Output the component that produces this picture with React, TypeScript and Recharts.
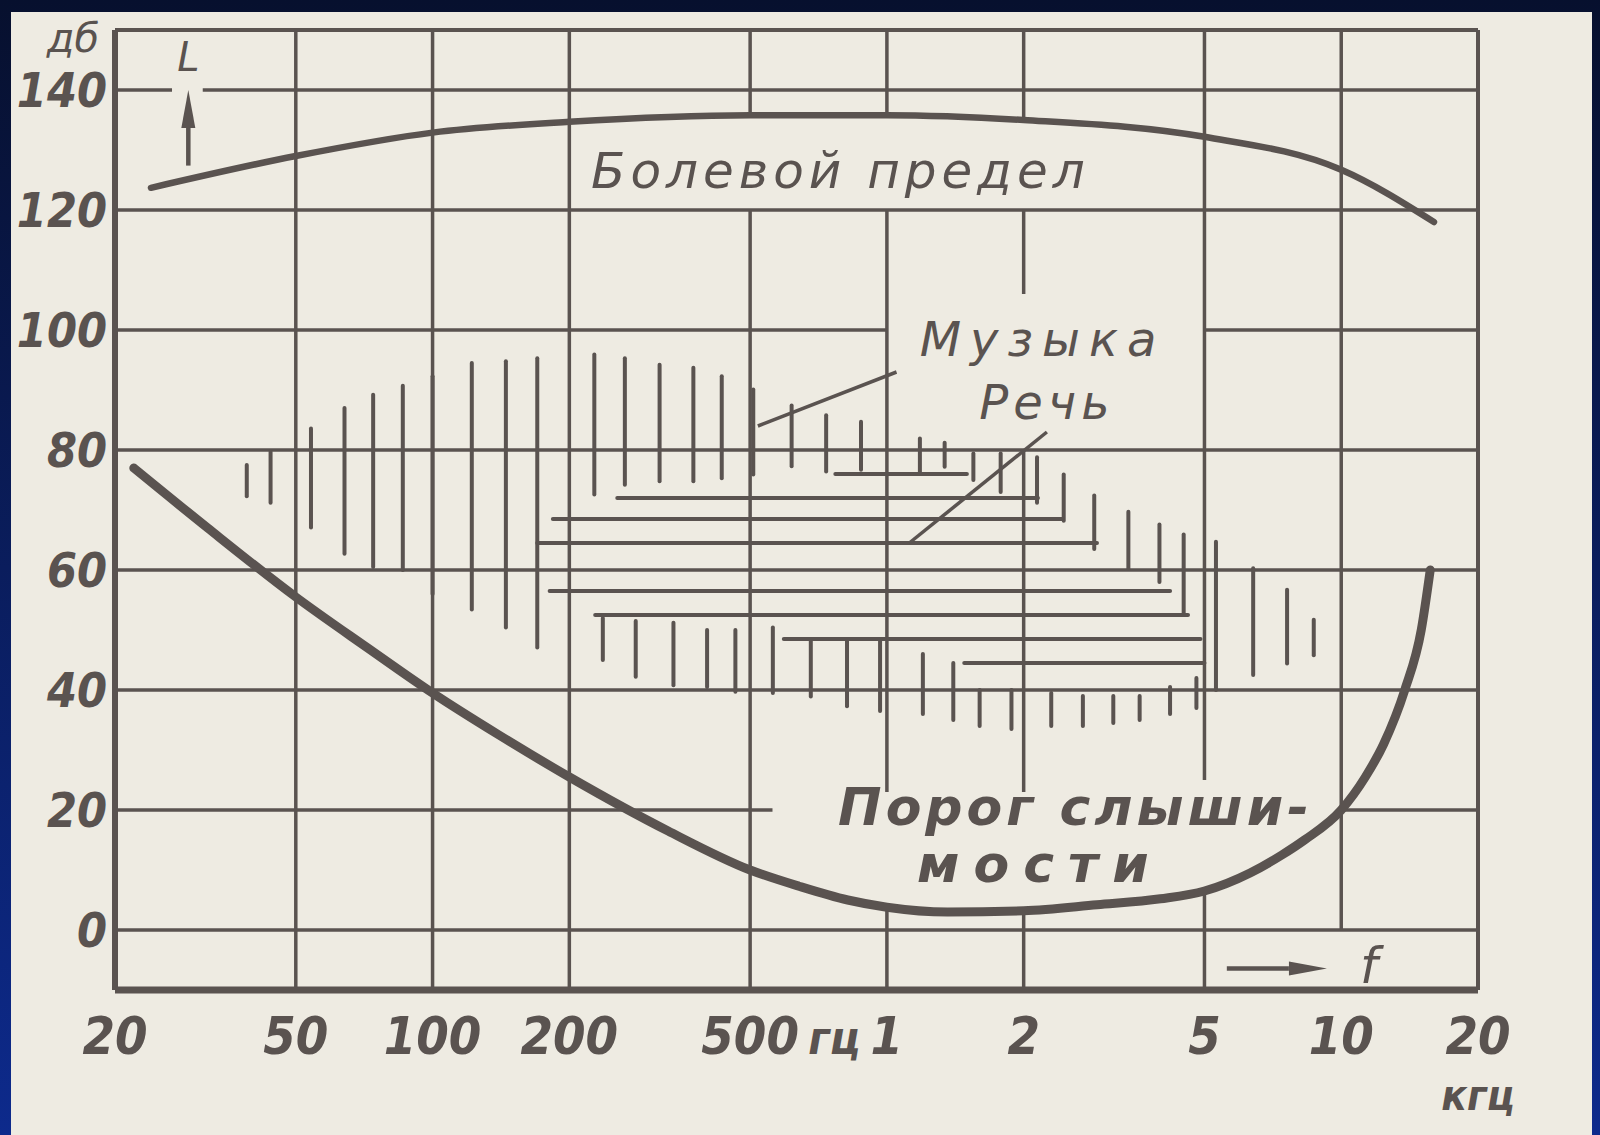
import { LineChart, Line, XAxis, YAxis, ReferenceLine, ReferenceDot } from "recharts";

const INK = "#5a5350";
const PAPER = "#eeebe2";
const NUM_FONT = "'DejaVu Sans Condensed', 'Liberation Sans Narrow', 'Liberation Sans', sans-serif";
const TXT_FONT = "'DejaVu Sans', 'Liberation Sans', sans-serif";

// axes
const freqTicks = [20, 50, 100, 200, 500, 1000, 2000, 5000, 10000, 20000];
const freqLabels = ["20", "50", "100", "200", "500", "1", "2", "5", "10", "20"];
const levelTicks = [0, 20, 40, 60, 80, 100, 120, 140];

// threshold of pain (Hz, dB)
const painFreq = [24, 50, 100, 200, 500, 1000, 2000, 5000, 10000, 16000];
const painLevel = [123.7, 129, 132.9, 134.7, 135.8, 135.8, 135, 132.2, 126.7, 118];

// threshold of hearing (Hz, dB)
const hearFreq = [22, 32, 50, 72, 100, 140, 200, 330, 500, 640, 820, 1000, 1360, 2000, 2900, 4000, 5000, 6300, 7400, 8300, 10000, 11300, 12400, 13800, 15000, 15700];
const hearLevel = [77, 67, 55.5, 47, 39.5, 32.5, 25.5, 16.5, 10, 7.3, 5, 3.8, 3, 3.2, 4.2, 5.2, 6.5, 9.5, 12.5, 15, 20, 25.5, 31, 40, 50, 60];

// music area, vertical hatching: [Hz, dB low, dB high]
const musicUpper = [
  [39, 72.3, 77.5], [44, 71.2, 79.7], [54, 67.1, 83.6], [64, 62.7, 87], [74, 60.5, 89.2],
  [86, 60, 90.7], [100, 56, 92.3], [122, 53.4, 94.5], [145, 50.4, 94.8], [170, 47.1, 95.3],
  [227, 72.6, 95.9], [265, 74.2, 95.3], [316, 74.8, 94.2], [375, 74.8, 93.7], [433, 75.3, 92.3],
  [508, 75.9, 90.1], [617, 77.3, 87.4], [735, 76.4, 85.8], [877, 76.7, 84.7], [1182, 76.2, 81.9],
  [1340, 77.2, 81.2], [1550, 75, 79.4], [1780, 73, 79.4], [2140, 71.2, 78.8], [2450, 68.2, 75.9],
  [2860, 63.5, 72.4], [3400, 60.3, 69.7], [3980, 58, 67.6], [4500, 52.8, 65.9], [5300, 40, 64.7],
  [6400, 42.5, 60.3], [7600, 44.4, 56.7], [8700, 45.8, 51.7],
];
const musicLower = [
  [237, 45, 52], [280, 42.2, 51.5], [339, 40.8, 51.2], [402, 40.5, 50], [464, 39.7, 50],
  [561, 39.5, 50.4], [680, 38.9, 48.5], [817, 37.3, 48.5], [966, 36.5, 48.2], [1200, 36, 46],
  [1400, 35, 44.5], [1600, 34, 40], [1880, 33.5, 40], [2300, 34, 39.5], [2700, 34, 39],
  [3150, 34.5, 39], [3600, 35, 39], [4200, 36, 40.5], [4800, 37, 42],
];

// speech area, horizontal hatching: [dB, Hz from, Hz to]
const speech = [
  [76, 770, 1500], [72, 255, 2150], [68.5, 184, 2430], [64.5, 170, 2900],
  [56.5, 181, 4200], [52.5, 228, 4600], [48.5, 593, 4900], [44.5, 1480, 5000],
];

// grid, broken where the captions sit
const gridV = [
  [50, -10, 150], [100, -10, 150], [200, -10, 150],
  [500, -10, 120], [500, 136, 150],
  [1000, -10, 3.8], [1000, 23, 120], [1000, 136, 150],
  [2000, -10, 3.2], [2000, 23, 80], [2000, 106, 120], [2000, 135, 150],
  [5000, -10, 6.5], [5000, 25, 150],
  [10000, 0, 150],
];
const gridH = [
  [0, 20, 20000], [20, 20, 560], [20, 10000, 20000], [40, 20, 20000], [60, 20, 20000],
  [80, 20, 20000], [100, 20, 1000], [100, 5000, 20000], [120, 20, 20000],
  [140, 20, 26.7], [140, 31.2, 20000],
];

// leader lines from captions: [Hz, dB, Hz, dB]
const leaders = [
  [520, 84, 1050, 93],
  [1120, 64.5, 2250, 83],
];

const painData = painFreq.map((f, i) => ({ f, db: painLevel[i] }));
const hearData = hearFreq.map((f, i) => ({ f, db: hearLevel[i] }));

const XTick = (props: any) => {
  const { x, y, payload } = props;
  const i = freqTicks.indexOf(payload.value);
  const common = { fill: INK, fontFamily: NUM_FONT, fontStyle: "italic", fontWeight: 700 } as any;
  return (
    <g>
      <text x={x} y={y + 56} textAnchor="middle" fontSize={52} {...common}>{freqLabels[i]}</text>
      {payload.value === 500 && (
        <text x={x + 58} y={y + 56} textAnchor="start" fontSize={46} {...common}>гц</text>
      )}
      {payload.value === 20000 && (
        <text x={x} y={y + 112} textAnchor="middle" fontSize={42} {...common}>кгц</text>
      )}
    </g>
  );
};

const YTick = (props: any) => {
  const { x, y, payload } = props;
  return (
    <text x={x} y={y + 17} textAnchor="end" fontSize={48} fill={INK} fontFamily={NUM_FONT} fontStyle="italic" fontWeight={700}>
      {payload.value}
    </text>
  );
};

const Arrow = (props: any) => {
  const { x1, y1, x2, y2 } = props;
  const len = Math.hypot(x2 - x1, y2 - y1) || 1;
  const ux = (x2 - x1) / len;
  const uy = (y2 - y1) / len;
  const hx = x2 - ux * 38;
  const hy = y2 - uy * 38;
  const px = -uy * 7;
  const py = ux * 7;
  return (
    <g>
      <line x1={x1} y1={y1} x2={hx} y2={hy} stroke={INK} strokeWidth={4.5} />
      <polygon points={`${x2},${y2} ${hx + px},${hy + py} ${hx - px},${hy - py}`} fill={INK} />
    </g>
  );
};

const note = (f: number, db: number, text: string, size: number, weight: number, spacing: number) => (
  <ReferenceDot
    key={text}
    x={f}
    y={db}
    r={0}
    shape={(p: any) => (
      <text x={p.cx} y={p.cy} textAnchor="middle" dominantBaseline="central" fontSize={size} fontWeight={weight}
        fontStyle="italic" letterSpacing={spacing} fill={INK} fontFamily={TXT_FONT}>
        {text}
      </text>
    )}
  />
);

export default function App() {
  return (
    <div style={{ position: "absolute", left: 0, top: 0, width: 1600, height: 1135, overflow: "hidden", background: "linear-gradient(180deg, #07102e 0%, #0d2a8c 100%)" }}>
      <div style={{ position: "absolute", left: 11, top: 12, right: 8, bottom: 0, background: PAPER }} />
      <div style={{ position: "absolute", left: 0, top: 0 }}>
        <LineChart width={1600} height={1135} margin={{ top: 30, right: 122, left: 55, bottom: 115 }}>
          <XAxis type="number" dataKey="f" scale="log" domain={[20, 20000]} ticks={freqTicks} interval={0}
            allowDataOverflow height={30} axisLine={{ stroke: INK, strokeWidth: 7 }} tickLine={false} tick={XTick} />
          <YAxis type="number" domain={[-10, 150]} ticks={levelTicks} interval={0} allowDataOverflow width={60}
            axisLine={{ stroke: INK, strokeWidth: 6 }} tickLine={false} tick={YTick} />

          {gridV.map(([f, a, b], i) => (
            <ReferenceLine key={`gv${i}`} segment={[{ x: f, y: a }, { x: f, y: b }]} stroke={INK} strokeWidth={3.5} />
          ))}
          {gridH.map(([db, a, b], i) => (
            <ReferenceLine key={`gh${i}`} segment={[{ x: a, y: db }, { x: b, y: db }]} stroke={INK} strokeWidth={3.5} />
          ))}
          <ReferenceLine segment={[{ x: 20, y: 150 }, { x: 20000, y: 150 }]} stroke={INK} strokeWidth={4} />
          <ReferenceLine segment={[{ x: 20000, y: -10 }, { x: 20000, y: 150 }]} stroke={INK} strokeWidth={4} />

          {musicUpper.map(([f, lo, hi], i) => (
            <ReferenceLine key={`mu${i}`} segment={[{ x: f, y: lo }, { x: f, y: hi }]} stroke={INK} strokeWidth={4} strokeLinecap="round" />
          ))}
          {musicLower.map(([f, lo, hi], i) => (
            <ReferenceLine key={`ml${i}`} segment={[{ x: f, y: lo }, { x: f, y: hi }]} stroke={INK} strokeWidth={4} strokeLinecap="round" />
          ))}
          {speech.map(([db, a, b], i) => (
            <ReferenceLine key={`sp${i}`} segment={[{ x: a, y: db }, { x: b, y: db }]} stroke={INK} strokeWidth={4} strokeLinecap="round" />
          ))}
          {leaders.map(([f1, d1, f2, d2], i) => (
            <ReferenceLine key={`ld${i}`} segment={[{ x: f1, y: d1 }, { x: f2, y: d2 }]} stroke={INK} strokeWidth={3.5} />
          ))}

          <ReferenceLine segment={[{ x: 29, y: 127.4 }, { x: 29, y: 140 }]} shape={Arrow} />
          <ReferenceLine segment={[{ x: 5600, y: -6.4 }, { x: 9300, y: -6.4 }]} shape={Arrow} />

          <Line data={painData} dataKey="db" type="monotone" stroke={INK} strokeWidth={6.5} strokeLinecap="round" dot={false} activeDot={false} isAnimationActive={false} />
          <Line data={hearData} dataKey="db" type="monotone" stroke={INK} strokeWidth={9} strokeLinecap="round" dot={false} activeDot={false} isAnimationActive={false} />

          {note(790, 126.5, "Болевой предел", 50, 400, 5)}
          {note(2200, 98.5, "Музыка", 48, 400, 9)}
          {note(2250, 88, "Речь", 48, 400, 5)}
          {note(2600, 20.5, "Порог слыши-", 52, 700, 4)}
          {note(2170, 11, "мости", 52, 700, 14)}
          {note(29, 145.5, "L", 40, 400, 0)}
          {note(11500, -6, "f", 50, 400, 0)}
          <ReferenceDot x={20} y={150} r={0} shape={(p: any) => (
            <text x={p.cx - 42} y={p.cy + 8} textAnchor="middle" dominantBaseline="central" fontSize={40}
              fontStyle="italic" fill={INK} fontFamily={TXT_FONT}>дб</text>
          )} />
        </LineChart>
      </div>
    </div>
  );
}
